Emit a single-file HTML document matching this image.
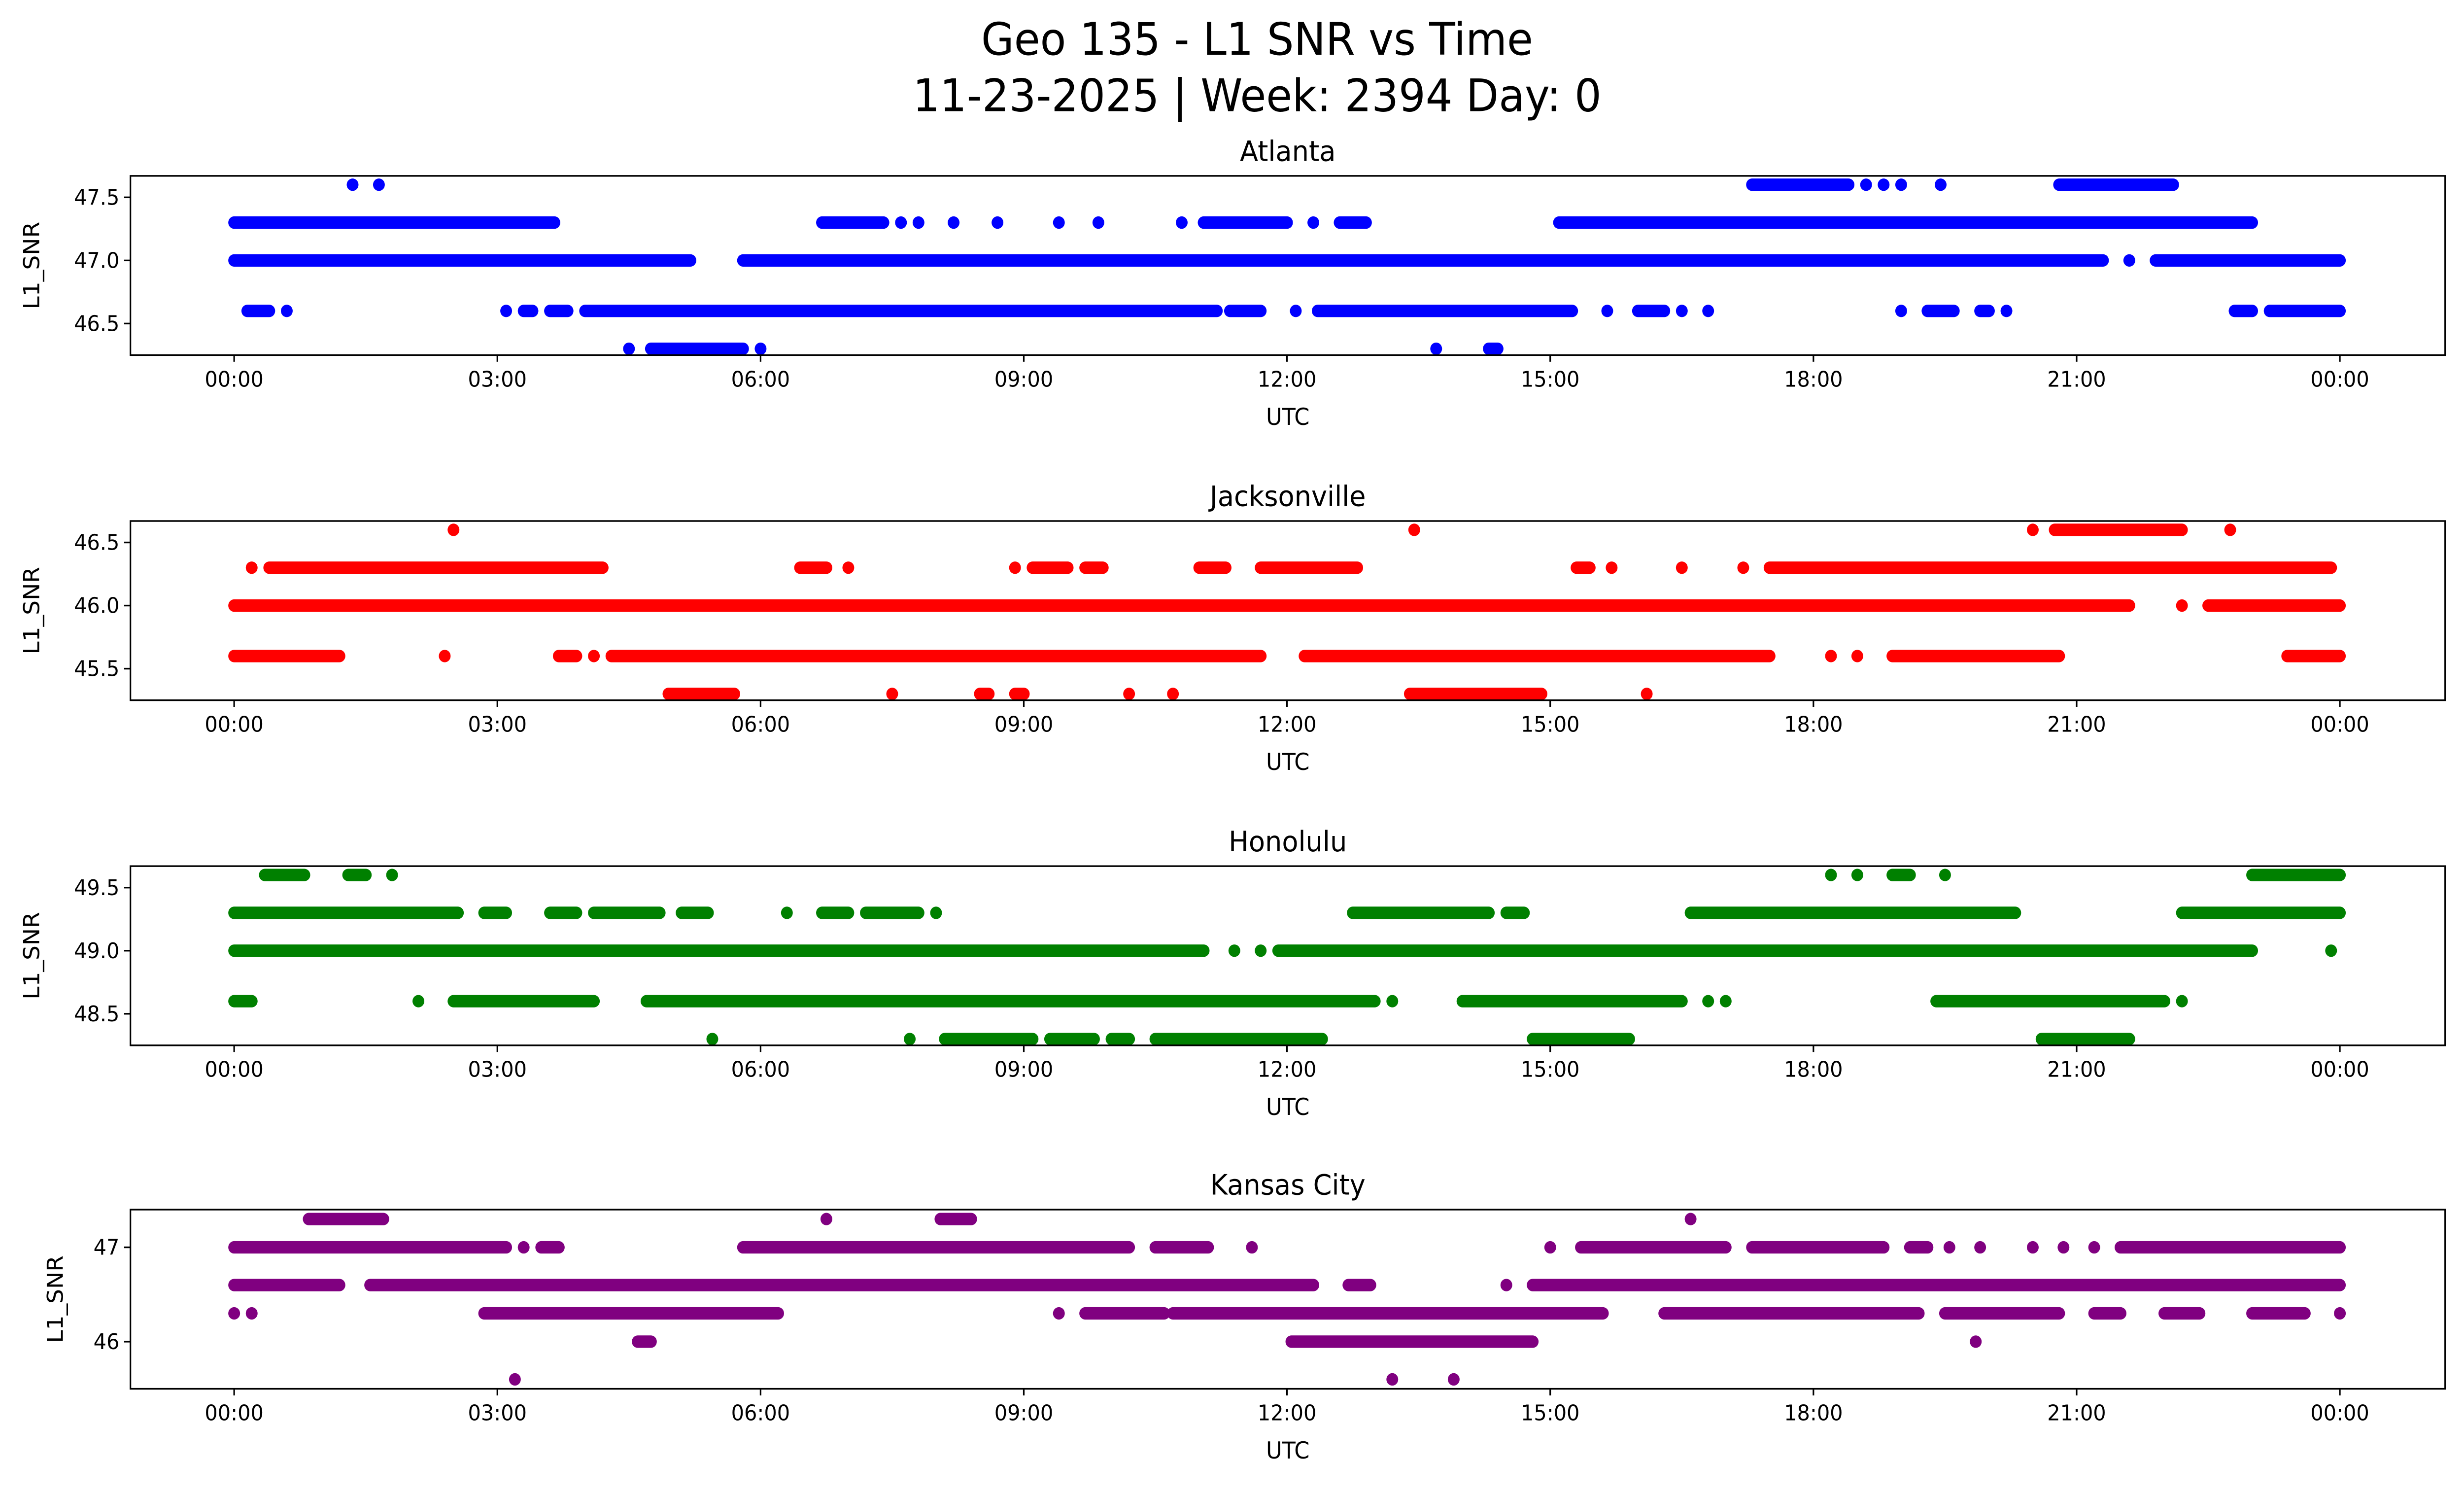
<!DOCTYPE html>
<html><head><meta charset="utf-8">
<style>
html,body{margin:0;padding:0;background:#fff;overflow:hidden;width:100%;height:100%;}
svg{display:block;width:100vw;height:100vh;}
text{font-family:"DejaVu Sans","Liberation Sans",sans-serif;fill:#000;}
</style></head>
<body>
<svg id="fig" viewBox="0 0 1568 901" preserveAspectRatio="none" xmlns="http://www.w3.org/2000/svg">
<rect width="1568" height="901" fill="#fff"/>
<text x="800" y="33" font-size="27" text-anchor="middle">Geo 135 - L1 SNR vs Time</text>
<text x="800" y="67" font-size="27" text-anchor="middle">11-23-2025 | Week: 2394 Day: 0</text>
</svg>
<script>
// runs: [snr level, start hour, end hour]
const atlantaRuns = [[47.6,1.35,1.35],[47.6,1.65,1.65],[47.6,17.3,18.4],[47.6,18.6,18.6],[47.6,18.8,18.8],[47.6,19.0,19.0],[47.6,19.45,19.45],[47.6,20.8,22.1],
[47.3,0,3.65],[47.3,6.7,7.4],[47.3,7.6,7.6],[47.3,7.8,7.8],[47.3,8.2,8.2],[47.3,8.7,8.7],[47.3,9.4,9.4],[47.3,9.85,9.85],[47.3,10.8,10.8],[47.3,11.05,12.0],[47.3,12.3,12.3],[47.3,12.6,12.9],[47.3,15.1,23.0],
[47.0,0,5.2],[47.0,5.8,21.3],[47.0,21.6,21.6],[47.0,21.9,24],
[46.6,0.15,0.4],[46.6,0.6,0.6],[46.6,3.1,3.1],[46.6,3.3,3.4],[46.6,3.6,3.8],[46.6,4.0,11.2],[46.6,11.35,11.7],[46.6,12.1,12.1],[46.6,12.35,15.25],[46.6,15.65,15.65],[46.6,16.0,16.3],[46.6,16.5,16.5],[46.6,16.8,16.8],[46.6,19.0,19.0],[46.6,19.3,19.6],[46.6,19.9,20.0],[46.6,20.2,20.2],[46.6,22.8,23.0],[46.6,23.2,24],
[46.3,4.5,4.5],[46.3,4.75,5.8],[46.3,6.0,6.0],[46.3,13.7,13.7],[46.3,14.3,14.4]];
const jacksonvilleRuns = [[46.6,2.5,2.5],[46.6,13.45,13.45],[46.6,20.5,20.5],[46.6,20.75,22.2],[46.6,22.75,22.75],
[46.3,0.2,0.2],[46.3,0.4,4.2],[46.3,6.45,6.75],[46.3,7.0,7.0],[46.3,8.9,8.9],[46.3,9.1,9.5],[46.3,9.7,9.9],[46.3,11.0,11.3],[46.3,11.7,12.8],[46.3,15.3,15.45],[46.3,15.7,15.7],[46.3,16.5,16.5],[46.3,17.2,17.2],[46.3,17.5,23.9],
[46.0,0,21.6],[46.0,22.2,22.2],[46.0,22.5,24],
[45.6,0,1.2],[45.6,2.4,2.4],[45.6,3.7,3.9],[45.6,4.1,4.1],[45.6,4.3,11.7],[45.6,12.2,17.5],[45.6,18.2,18.2],[45.6,18.5,18.5],[45.6,18.9,20.8],[45.6,23.4,24],
[45.3,4.95,5.7],[45.3,7.5,7.5],[45.3,8.5,8.6],[45.3,8.9,9.0],[45.3,10.2,10.2],[45.3,10.7,10.7],[45.3,13.4,14.9],[45.3,16.1,16.1]];
const honoluluRuns = [[49.6,0.35,0.8],[49.6,1.3,1.5],[49.6,1.8,1.8],[49.6,18.2,18.2],[49.6,18.5,18.5],[49.6,18.9,19.1],[49.6,19.5,19.5],[49.6,23.0,24],
[49.3,0,2.55],[49.3,2.85,3.1],[49.3,3.6,3.9],[49.3,4.1,4.85],[49.3,5.1,5.4],[49.3,6.3,6.3],[49.3,6.7,7.0],[49.3,7.2,7.8],[49.3,8.0,8.0],[49.3,12.75,14.3],[49.3,14.5,14.7],[49.3,16.6,20.3],[49.3,22.2,24],
[49.0,0,11.05],[49.0,11.4,11.4],[49.0,11.7,11.7],[49.0,11.9,23.0],[49.0,23.9,23.9],
[48.6,0,0.2],[48.6,2.1,2.1],[48.6,2.5,4.1],[48.6,4.7,13.0],[48.6,13.2,13.2],[48.6,14.0,16.5],[48.6,16.8,16.8],[48.6,17.0,17.0],[48.6,19.4,22.0],[48.6,22.2,22.2],
[48.3,5.45,5.45],[48.3,7.7,7.7],[48.3,8.1,9.1],[48.3,9.3,9.8],[48.3,10.0,10.2],[48.3,10.5,12.4],[48.3,14.8,15.9],[48.3,20.6,21.6]];
const kansasRuns = [[47.3,0.85,1.7],[47.3,6.75,6.75],[47.3,8.05,8.4],[47.3,16.6,16.6],
[47.0,0,3.1],[47.0,3.3,3.3],[47.0,3.5,3.7],[47.0,5.8,10.2],[47.0,10.5,11.1],[47.0,11.6,11.6],[47.0,15.0,15.0],[47.0,15.35,17.0],[47.0,17.3,18.8],[47.0,19.1,19.3],[47.0,19.55,19.55],[47.0,19.9,19.9],[47.0,20.5,20.5],[47.0,20.85,20.85],[47.0,21.2,21.2],[47.0,21.5,24],
[46.6,0,1.2],[46.6,1.55,12.3],[46.6,12.7,12.95],[46.6,14.5,14.5],[46.6,14.8,24],
[46.3,0,0],[46.3,0.2,0.2],[46.3,2.85,6.2],[46.3,9.4,9.4],[46.3,9.7,10.6],[46.3,10.7,15.6],[46.3,16.3,19.2],[46.3,19.5,20.8],[46.3,21.2,21.5],[46.3,22.0,22.4],[46.3,23.0,23.6],[46.3,24,24],
[46.0,4.6,4.75],[46.0,12.05,14.8],[46.0,19.85,19.85],
[45.6,3.2,3.2],[45.6,13.2,13.2],[45.6,13.9,13.9]];
const xTickHours = [0,3,6,9,12,15,18,21,24];
const xTickLabels = ["00:00","03:00","06:00","09:00","12:00","15:00","18:00","21:00","00:00"];
const panelTitles = ["Atlanta","Jacksonville","Honolulu","Kansas City"];
const panelColors = ["#0000ff","#ff0000","#008000","#800080"];
const yTicks = [[46.5,47.0,47.5],[45.5,46.0,46.5],[48.5,49.0,49.5],[46,47]];
const yTickLabels = [["46.5","47.0","47.5"],["45.5","46.0","46.5"],["48.5","49.0","49.5"],["46","47"]];
const yDomains = [[46.25,47.67],[45.25,46.67],[48.25,49.67],[45.5,47.4]];
const allRuns = [atlantaRuns,jacksonvilleRuns,honoluluRuns,kansasRuns];

const NS="http://www.w3.org/2000/svg";
const svg=document.getElementById('fig');
const L=83,R=1556,H=108;
const tops=[106,314,522,729];
function mk(tag,attrs,parent){const e=document.createElementNS(NS,tag);for(const k in attrs)e.setAttribute(k,attrs[k]);(parent||svg).appendChild(e);return e;}
function xs(h){return 149+(h/24)*1340;}
allRuns.forEach((runs,p)=>{
  const top=tops[p],bot=top+H;
  const ys=v=>bot-(v-yDomains[p][0])/(yDomains[p][1]-yDomains[p][0])*H;
  const slug=panelTitles[p].toLowerCase().replace(/ /g,'-');
  const g=mk('g',{});
  
  
  const t=mk('text',{x:(L+R)/2,y:top-9,'font-size':17,'text-anchor':'middle'},g);
  t.textContent=panelTitles[p];
  
  
  const sg=mk('g',{stroke:panelColors[p],'stroke-width':7.5,'stroke-linecap':'round'},g);
  
  
  runs.forEach(r=>{
    const ln=mk('line',{x1:xs(r[1]),x2:xs(r[2])+0.01,y1:ys(r[0]),y2:ys(r[0])},sg);
    
    
  });
  const fr=mk('rect',{x:L,y:top,width:R-L,height:H,fill:'none',stroke:'#000','stroke-width':1},g);
  
  
  xTickHours.forEach((h,i)=>{
    mk('line',{x1:xs(h),x2:xs(h),y1:bot,y2:bot+4,stroke:'#000','stroke-width':1},g);
    const tl=mk('text',{x:xs(h),y:bot+19,'font-size':13,'text-anchor':'middle'},g);
    tl.textContent=xTickLabels[i];
    
    
  });
  yTicks[p].forEach((v,i)=>{
    mk('line',{x1:L-4,x2:L,y1:ys(v),y2:ys(v),stroke:'#000','stroke-width':1},g);
    const yl=mk('text',{x:L-7,y:ys(v)+4.5,'font-size':13,'text-anchor':'end'},g);
    yl.textContent=yTickLabels[p][i];
    
    
  });
  const xt=mk('text',{x:(L+R)/2,y:bot+42,'font-size':14,'text-anchor':'middle'},g);
  xt.textContent='UTC';
  
  
  const cy=top+H/2, cx=p===3?40:25;
  const yt=mk('text',{x:cx,y:cy,'font-size':14,'text-anchor':'middle',transform:`rotate(-90 ${cx} ${cy})`},g);
  yt.textContent='L1_SNR';
  
  
});
</script>
</body></html>
